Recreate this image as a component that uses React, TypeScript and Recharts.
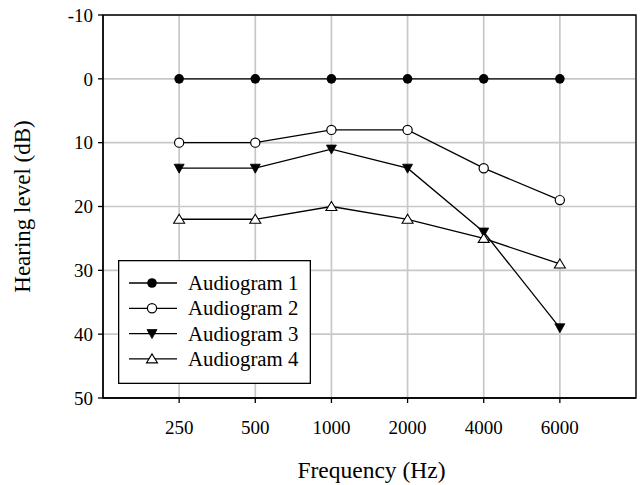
import {
  CartesianGrid,
  Label,
  Legend,
  Line,
  LineChart,
  ReferenceArea,
  XAxis,
  YAxis,
} from "recharts";

const frequencies = ["250", "500", "1000", "2000", "4000", "6000"];
const audiogram1 = [0, 0, 0, 0, 0, 0];
const audiogram2 = [10, 10, 8, 8, 14, 19];
const audiogram3 = [14, 14, 11, 14, 24, 39];
const audiogram4 = [22, 22, 20, 22, 25, 29];
const yTicks = [-10, 0, 10, 20, 30, 40, 50];
const xTicks = [1, 2, 3, 4, 5, 6];

const data = frequencies.map((f, i) => ({
  pos: i + 1,
  freq: f,
  a1: audiogram1[i],
  a2: audiogram2[i],
  a3: audiogram3[i],
  a4: audiogram4[i],
}));

const FONT = '"Liberation Serif", "Times New Roman", serif';

type Shape = "filledCircle" | "openCircle" | "triDown" | "triUp";

function Marker({ cx, cy, shape }: { cx: number; cy: number; shape: Shape }) {
  if (cx == null || cy == null) return null;
  switch (shape) {
    case "filledCircle":
      return <circle cx={cx} cy={cy} r={4.8} fill="#000" />;
    case "openCircle":
      return <circle cx={cx} cy={cy} r={4.6} fill="#fff" stroke="#000" strokeWidth={1.2} />;
    case "triDown":
      return (
        <polygon
          points={`${cx - 5},${cy - 4} ${cx + 5},${cy - 4} ${cx},${cy + 5}`}
          fill="#000"
          stroke="#000"
          strokeWidth={0.8}
        />
      );
    default:
      return (
        <polygon
          points={`${cx},${cy - 5} ${cx - 5.5},${cy + 4} ${cx + 5.5},${cy + 4}`}
          fill="#fff"
          stroke="#000"
          strokeWidth={1.1}
        />
      );
  }
}

const series: { key: string; name: string; shape: Shape }[] = [
  { key: "a1", name: "Audiogram 1", shape: "filledCircle" },
  { key: "a2", name: "Audiogram 2", shape: "openCircle" },
  { key: "a3", name: "Audiogram 3", shape: "triDown" },
  { key: "a4", name: "Audiogram 4", shape: "triUp" },
];

function LegendBox() {
  return (
    <svg width={193} height={124} style={{ display: "block" }}>
      <rect x={0.65} y={0.65} width={191.7} height={122.7} fill="#fff" stroke="#000" strokeWidth={1.3} />
      {series.map((s, i) => {
        const y = 23 + i * 25.3;
        return (
          <g key={s.key}>
            <line x1={11} x2={59} y1={y} y2={y} stroke="#000" strokeWidth={1.3} />
            <Marker cx={34} cy={y} shape={s.shape} />
            <text x={70} y={y + 7} fontFamily={FONT} fontSize={20.8} fill="#000">
              {s.name}
            </text>
          </g>
        );
      })}
    </svg>
  );
}

const tickStyle = { fontFamily: FONT, fontSize: 19, fill: "#000" };

export default function App() {
  return (
    <div style={{ width: 642, height: 485, background: "#fff" }}>
      <style>{"body{margin:0}"}</style>
      <LineChart
        width={642}
        height={485}
        data={data}
        margin={{ top: 15, right: 6, left: 0, bottom: 0 }}
      >
        <CartesianGrid stroke="#c8c8c8" strokeWidth={1.7} />
        <XAxis
          dataKey="pos"
          type="number"
          domain={[0, 7]}
          ticks={xTicks}
          tickFormatter={(v: number) => frequencies[v - 1] ?? ""}
          height={87}
          stroke="#000"
          strokeWidth={1.3}
          tickSize={5}
          tickMargin={18}
          tick={tickStyle}
          interval={0}
        >
          <Label
            content={({ viewBox }: any) => (
              <text
                x={viewBox.x + viewBox.width / 2 + 2}
                y={viewBox.y + 80}
                textAnchor="middle"
                fontFamily={FONT}
                fontSize={23.5}
                fill="#000"
              >
                Frequency (Hz)
              </text>
            )}
          />
        </XAxis>
        <YAxis
          type="number"
          reversed
          domain={[-10, 50]}
          ticks={yTicks}
          width={103}
          stroke="#000"
          strokeWidth={1.3}
          tickSize={5}
          tickMargin={5}
          tick={tickStyle}
          interval={0}
        >
          <Label
            content={({ viewBox }: any) => {
              const x = 30;
              const y = viewBox.y + viewBox.height / 2;
              return (
                <text
                  x={x}
                  y={y}
                  transform={`rotate(-90, ${x}, ${y})`}
                  textAnchor="middle"
                  fontFamily={FONT}
                  fontSize={23}
                  fill="#000"
                >
                  Hearing level (dB)
                </text>
              );
            }}
          />
        </YAxis>
        <ReferenceArea
          x1={0}
          x2={7}
          y1={-10}
          y2={50}
          fill="none"
          stroke="#000"
          strokeWidth={1.3}
          ifOverflow="visible"
        />
        {series.map((s) => (
          <Line
            key={s.key}
            dataKey={s.key}
            name={s.name}
            type="linear"
            stroke="#000"
            strokeWidth={1.3}
            isAnimationActive={false}
            dot={(p: any) => <Marker key={`${s.key}-${p.index}`} cx={p.cx} cy={p.cy} shape={s.shape} />}
            activeDot={false}
          />
        ))}
        <Legend
          layout="vertical"
          align="center"
          verticalAlign="middle"
          wrapperStyle={{ left: 118, top: 260, width: "auto" }}
          content={() => <LegendBox />}
        />
      </LineChart>
    </div>
  );
}
